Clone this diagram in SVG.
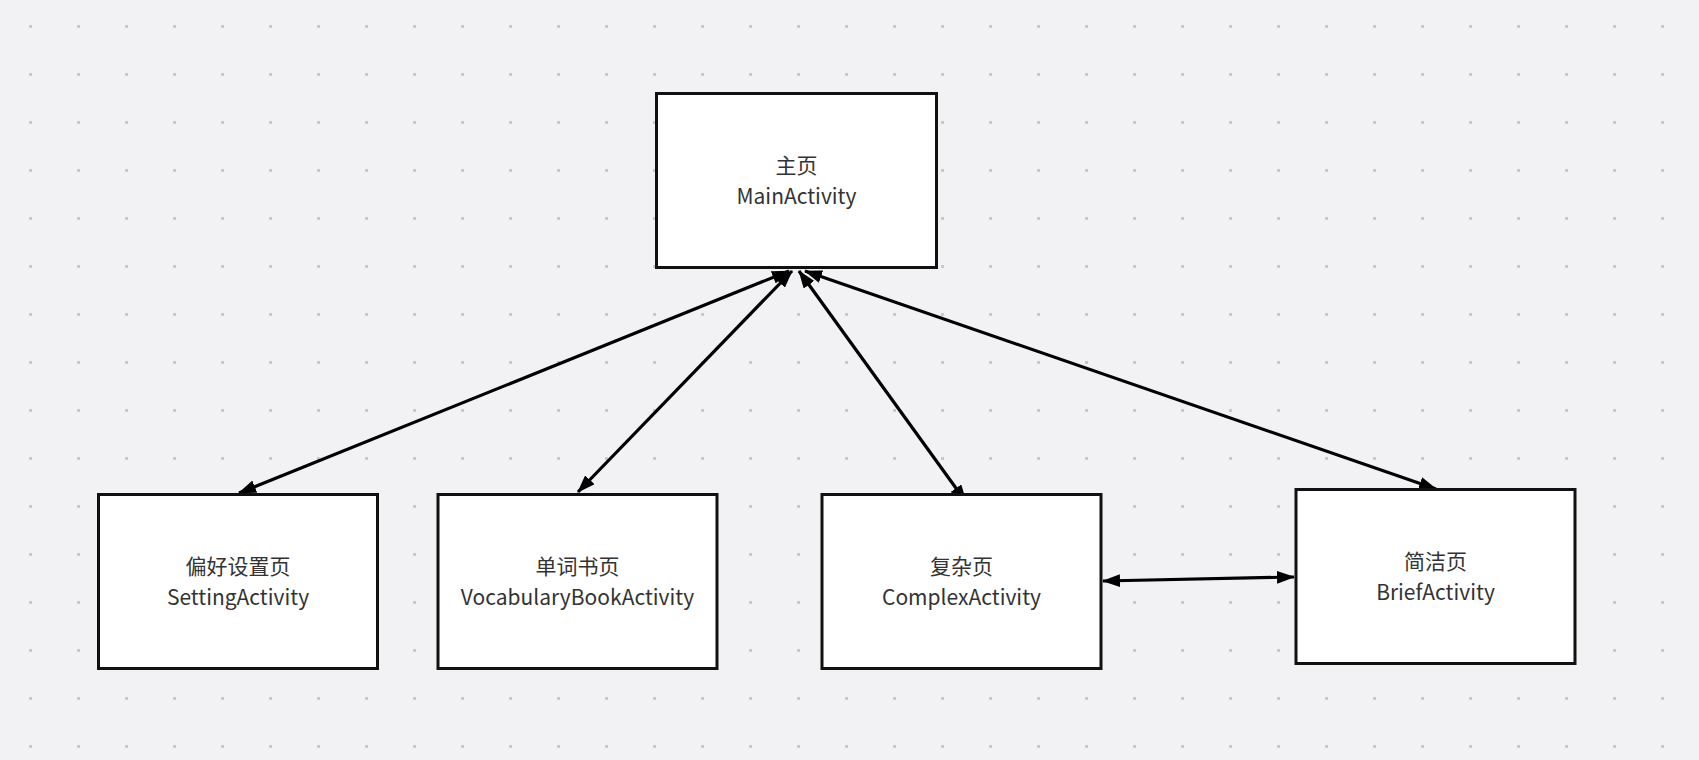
<svg xmlns="http://www.w3.org/2000/svg" width="1699" height="760" viewBox="0 0 1699 760">
<style>
.box{fill:#fff;stroke:#111;stroke-width:3}
.t{font-family:"Noto Sans CJK SC","Noto Sans",sans-serif;font-size:21px;fill:#333;text-anchor:middle;dominant-baseline:central}
.c{fill:none;stroke:#000;stroke-width:3.2}
</style>
<defs>
<pattern id="dots" x="29" y="25" width="48" height="48" patternUnits="userSpaceOnUse">
<rect x="0" y="0" width="3" height="3" fill="#c9c9cb"/>
</pattern>
<marker id="ah" viewBox="0 0 18 13" refX="17" refY="6.5" markerWidth="18" markerHeight="13" markerUnits="userSpaceOnUse" orient="auto-start-reverse">
<path d="M0,0 L18,6.5 L0,13 Z" fill="#000"/>
</marker>
</defs>
<rect width="1699" height="760" fill="#f2f2f4"/>
<rect width="1699" height="760" fill="url(#dots)"/>
<g id="connectors">
<line class="c" x1="789" y1="271" x2="239" y2="493" marker-start="url(#ah)" marker-end="url(#ah)"/>
<line class="c" x1="792" y1="271" x2="578" y2="492" marker-start="url(#ah)" marker-end="url(#ah)"/>
<line class="c" x1="799" y1="271" x2="966" y2="502" marker-start="url(#ah)" marker-end="url(#ah)"/>
<line class="c" x1="805" y1="271" x2="1436" y2="489" marker-start="url(#ah)" marker-end="url(#ah)"/>
<line class="c" x1="1103" y1="581" x2="1294" y2="577" marker-start="url(#ah)" marker-end="url(#ah)"/>
</g>
<g id="main">
<rect class="box" x="656.5" y="93.5" width="280" height="174"/>
<text class="t" x="796.5" y="164">主页</text>
<text class="t" x="796.5" y="195">MainActivity</text>
</g>
<g id="setting">
<rect class="box" x="98.5" y="494.5" width="279" height="174"/>
<text class="t" x="238" y="565">偏好设置页</text>
<text class="t" x="238" y="596">SettingActivity</text>
</g>
<g id="vocab">
<rect class="box" x="438" y="494.5" width="279" height="174"/>
<text class="t" x="577.5" y="565">单词书页</text>
<text class="t" x="577.5" y="596">VocabularyBookActivity</text>
</g>
<g id="complex">
<rect class="box" x="822" y="494.5" width="279" height="174"/>
<text class="t" x="961.5" y="565">复杂页</text>
<text class="t" x="961.5" y="596">ComplexActivity</text>
</g>
<g id="brief">
<rect class="box" x="1296" y="489.5" width="279" height="174"/>
<text class="t" x="1435.5" y="560">简洁页</text>
<text class="t" x="1435.5" y="591">BriefActivity</text>
</g>
</svg>
